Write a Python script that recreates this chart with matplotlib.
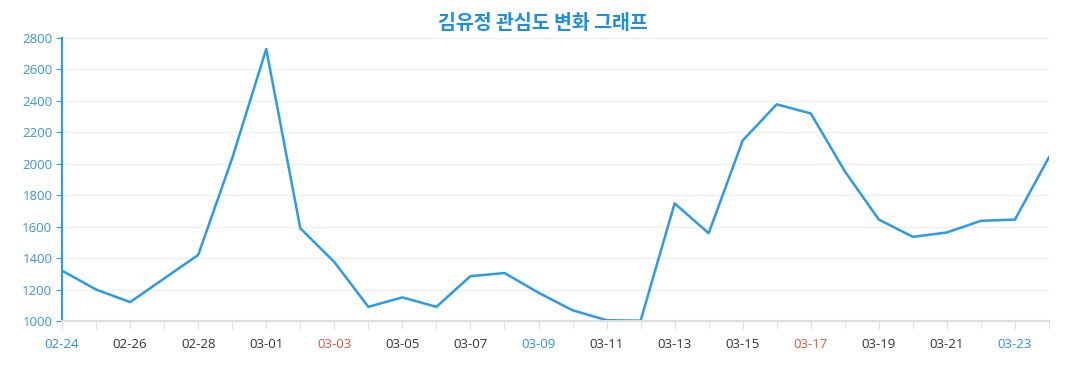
import matplotlib.pyplot as plt

# Daily values, 2024-02-24 .. 2024-03-24
dates = ["02-24", "02-25", "02-26", "02-27", "02-28", "02-29",
         "03-01", "03-02", "03-03", "03-04", "03-05", "03-06", "03-07", "03-08",
         "03-09", "03-10", "03-11", "03-12", "03-13", "03-14", "03-15", "03-16",
         "03-17", "03-18", "03-19", "03-20", "03-21", "03-22", "03-23", "03-24"]
values = [1320, 1200, 1120, 1270, 1420, 2035,
          2730, 1590, 1375, 1090, 1150, 1090, 1285, 1305,
          1180, 1068, 1005, 1002, 1748, 1558, 2148, 2378,
          2320, 1952, 1645, 1535, 1563, 1637, 1645, 2042]
# label colours (weekends / holidays highlighted)
label_colors = {"02-24": "#2b90d9", "03-03": "#e0553a", "03-09": "#2b90d9",
                "03-17": "#e0553a", "03-23": "#2b90d9"}

plt.rcParams["font.family"] = ["Open Sans", "DejaVu Sans"]

fig = plt.figure(figsize=(10.77, 3.9), dpi=100)
ax = fig.add_axes([0.0576, 0.177, 0.9164, 0.7256])

x = list(range(len(dates)))
ax.plot(x, values, color="#2d9be3", linewidth=1.8)

ax.set_xlim(0, len(dates) - 1)
ax.set_ylim(1000, 2800)
ax.set_yticks(range(1000, 2801, 200))
ax.grid(axis="y", color="#eeeeee", linewidth=1)
ax.set_axisbelow(True)

ax.set_xticks(x, minor=True)
ax.set_xticks(x[::2])
ax.set_xticklabels(dates[::2], fontsize=9.5)
for lbl in ax.get_xticklabels():
    lbl.set_color(label_colors.get(lbl.get_text(), "#333333"))
ax.tick_params(axis="x", which="both", length=6, color="#dddddd", pad=6)
ax.tick_params(axis="y", length=4, color="#2d9be3", labelcolor="#3a96d6",
               labelsize=9.5, pad=3)

for s in ["top", "right"]:
    ax.spines[s].set_visible(False)
ax.spines["left"].set_color("#2d9be3")
ax.spines["left"].set_linewidth(1.5)
ax.spines["bottom"].set_color("#dddddd")
ax.spines["bottom"].set_linewidth(1.5)

fig.suptitle("김유정 관심도 변화 그래프", x=0.504, y=0.965, fontsize=14,
             fontweight="bold", color="#1e8ee0",
             family=["Noto Sans CJK KR", "DejaVu Sans"])

fig.savefig("out.png", dpi=100)
